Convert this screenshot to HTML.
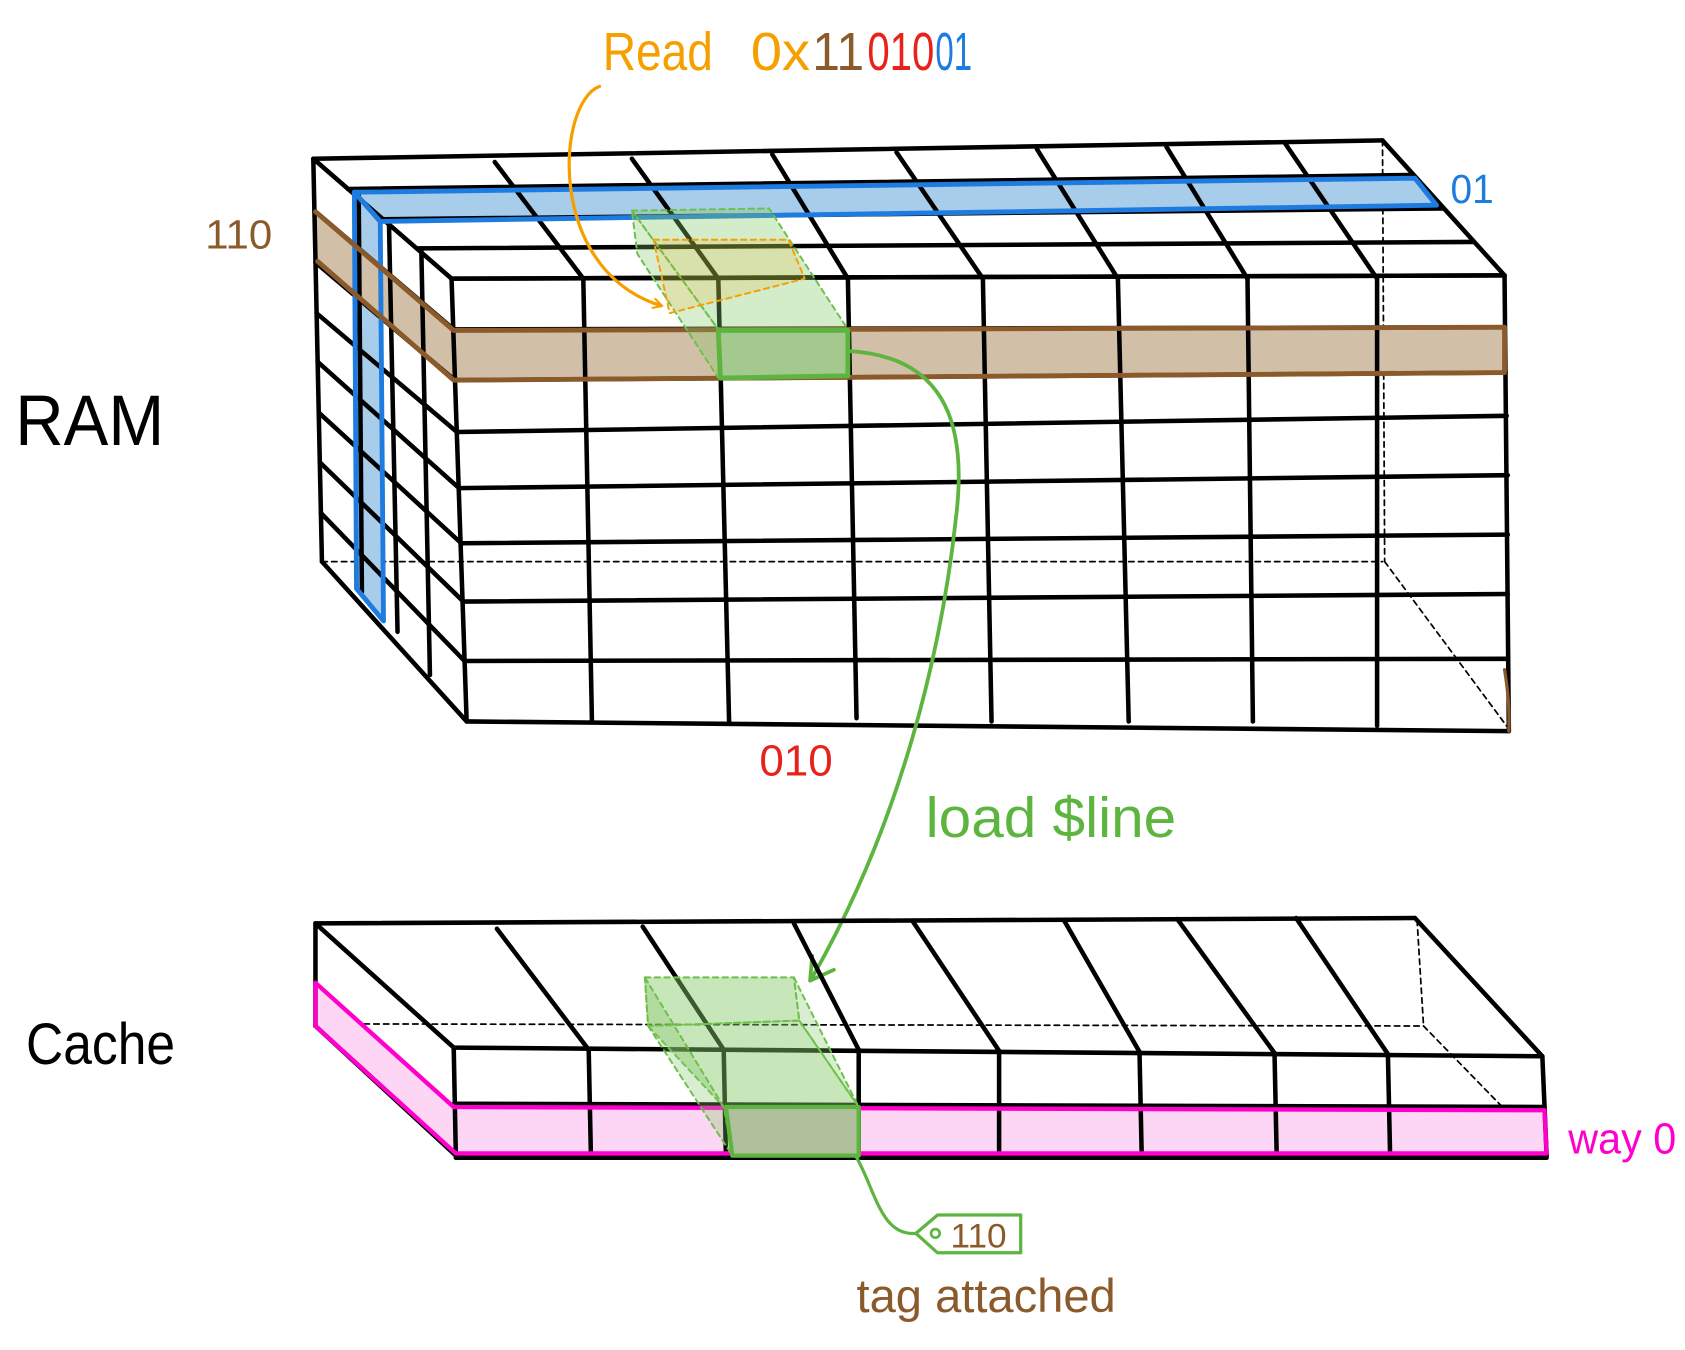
<!DOCTYPE html>
<html><head><meta charset="utf-8"><style>
html,body{margin:0;padding:0;background:#fff;}
svg{display:block;}
text{font-family:"Liberation Sans",sans-serif;}
</style></head><body>
<svg width="1685" height="1350" viewBox="0 0 1560 1250" xmlns="http://www.w3.org/2000/svg">
<defs>
<marker id="ao" markerWidth="10" markerHeight="10" refX="8" refY="5" orient="auto" markerUnits="userSpaceOnUse" viewBox="0 0 10 10"><path d="M0,0 L9,5 L0,10" fill="none" stroke="#f5a000" stroke-width="2"/></marker>
</defs>
<g fill="none" stroke-linecap="round" stroke-linejoin="round">

<!-- RAM hidden lines -->
<g stroke="#000" stroke-width="1.6" stroke-dasharray="5,4">
<line x1="298" y1="520" x2="1280" y2="520"/>
<line x1="1280" y1="130" x2="1282" y2="520"/>
<line x1="1282" y1="520" x2="1397" y2="675"/>
</g>

<!-- fills -->
<polygon points="328,178 1310,165 1330,190 352,205" fill="#a8cdea"/>
<polygon points="328,178 352,205 355,575 330,545" fill="#a8cdea"/>
<polygon points="292,196 420,306 420,352 294,242" fill="#d2bfa8"/>
<polygon points="420,306 1393,303 1393,345 420,352" fill="#d2bfa8"/>

<!-- RAM grid -->
<g stroke="#000" stroke-width="4.2">
<line x1="290" y1="147" x2="1280" y2="130"/>
<line x1="322" y1="175" x2="1308" y2="162"/>
<line x1="354" y1="203" x2="1336" y2="193"/>
<line x1="386" y1="230" x2="1364" y2="224"/>
<line x1="418" y1="258" x2="1393" y2="255"/>
<line x1="458" y1="150" x2="540" y2="258"/>
<line x1="585" y1="147" x2="665" y2="258"/>
<line x1="715" y1="143" x2="785" y2="258"/>
<line x1="830" y1="141" x2="910" y2="258"/>
<line x1="960" y1="138" x2="1035" y2="258"/>
<line x1="1080" y1="136" x2="1155" y2="258"/>
<line x1="1190" y1="133" x2="1275" y2="258"/>
<line x1="1280" y1="130" x2="1393" y2="255"/>
<line x1="290" y1="147" x2="418" y2="258"/>
<line x1="418" y1="258" x2="1393" y2="255"/>
<line x1="420" y1="305" x2="1393" y2="303"/>
<line x1="421" y1="352" x2="1394" y2="345"/>
<line x1="423" y1="400" x2="1395" y2="385"/>
<line x1="425" y1="452" x2="1396" y2="440"/>
<line x1="427" y1="503" x2="1396" y2="495"/>
<line x1="429" y1="557" x2="1396" y2="550"/>
<line x1="430" y1="612" x2="1396" y2="610"/>
<line x1="432" y1="668" x2="1397" y2="677"/>
<line x1="418" y1="258" x2="432" y2="668"/>
<line x1="540" y1="258" x2="548" y2="668"/>
<line x1="665" y1="258" x2="675" y2="668"/>
<line x1="785" y1="258" x2="793" y2="665"/>
<line x1="910" y1="258" x2="918" y2="668"/>
<line x1="1035" y1="258" x2="1045" y2="668"/>
<line x1="1155" y1="258" x2="1160" y2="668"/>
<line x1="1275" y1="258" x2="1275" y2="672"/>
<line x1="1393" y1="255" x2="1397" y2="677"/>
<line x1="290" y1="147" x2="298" y2="520"/>
<line x1="298" y1="520" x2="432" y2="668"/>
<line x1="291" y1="195" x2="420" y2="305"/>
<line x1="292" y1="243" x2="421" y2="352"/>
<line x1="293" y1="290" x2="423" y2="400"/>
<line x1="294" y1="335" x2="425" y2="452"/>
<line x1="295" y1="382" x2="427" y2="503"/>
<line x1="296" y1="428" x2="429" y2="557"/>
<line x1="297" y1="475" x2="430" y2="612"/>
<line x1="332" y1="178" x2="335" y2="548"/>
<line x1="360" y1="203" x2="368" y2="585"/>
<line x1="390" y1="230" x2="398" y2="625"/>
</g>
<!-- strip outlines on top -->
<polygon points="328,178 1310,165 1330,190 352,205" stroke="#1e7be0" stroke-width="4.5"/>
<polygon points="328,178 352,205 355,575 330,545" stroke="#1e7be0" stroke-width="4.5"/>
<polyline points="292,196 420,306 1393,303 1393,345 420,352 294,242" stroke="#8b5a2b" stroke-width="4.5"/>
<path d="M1393 620 Q1398 650 1397 677" stroke="#8b5a2b" stroke-width="3"/>

<!-- green prism on RAM -->
<polygon points="585,195 712,193 785,305 665,305" fill="rgba(130,200,100,0.35)" stroke="#6cc04a" stroke-width="1.8" stroke-dasharray="5,4"/>
<polygon points="585,195 665,305 665,350 590,235" fill="rgba(130,200,100,0.3)" stroke="#6cc04a" stroke-width="1.8" stroke-dasharray="5,4"/>
<polygon points="605,222 730,222 745,258 620,290" fill="rgba(245,160,0,0.15)" stroke="#f5a000" stroke-width="1.8" stroke-dasharray="5,4"/>
<polygon points="665,306 785,306 785,348 667,350" fill="#a3c98f" stroke="#5db540" stroke-width="4.5"/>

<path d="M555 80 C515 95 505 250 612 283" stroke="#f5a000" stroke-width="3" marker-end="url(#ao)"/>
<path d="M785 325 C880 330 895 400 885 480 C872 600 835 760 752 905" stroke="#5db540" stroke-width="3.5"/>
<path d="M752 885 L750 908 L772 898" stroke="#5db540" stroke-width="3.5"/>

<!-- Cache hidden -->
<g stroke="#000" stroke-width="1.6" stroke-dasharray="5,4">
<line x1="292" y1="948" x2="1318" y2="950"/>
<line x1="1312" y1="852" x2="1318" y2="950"/>
<line x1="1318" y1="950" x2="1430" y2="1065"/>
</g>
<polygon points="420,1025 1430,1025 1432,1070 422,1070" fill="#fcd6f4"/>
<polygon points="292,910 420,1025 422,1070 292,950" fill="#fcd6f4"/>
<g stroke="#000" stroke-width="4.2">
<line x1="292" y1="855" x2="1310" y2="850"/>
<line x1="420" y1="970" x2="1428" y2="978"/>
<line x1="292" y1="855" x2="420" y2="970"/>
<line x1="1310" y1="850" x2="1428" y2="978"/>
<line x1="292" y1="855" x2="292" y2="950"/>
<line x1="292" y1="950" x2="422" y2="1070"/>
<line x1="422" y1="1072" x2="1432" y2="1072"/>
<line x1="1428" y1="978" x2="1432" y2="1070"/>
<line x1="420" y1="970" x2="422" y2="1070"/>
<line x1="420" y1="1022" x2="1430" y2="1025"/>
<line x1="460" y1="860" x2="545" y2="972"/><line x1="545" y1="972" x2="547" y2="1068"/>
<line x1="595" y1="858" x2="670" y2="972"/><line x1="670" y1="972" x2="672" y2="1068"/>
<line x1="735" y1="855" x2="795" y2="972"/><line x1="795" y1="972" x2="795" y2="1068"/>
<line x1="845" y1="853" x2="925" y2="973"/><line x1="925" y1="973" x2="925" y2="1068"/>
<line x1="985" y1="852" x2="1055" y2="974"/><line x1="1055" y1="974" x2="1057" y2="1068"/>
<line x1="1090" y1="851" x2="1180" y2="975"/><line x1="1180" y1="975" x2="1182" y2="1068"/>
<line x1="1200" y1="850" x2="1285" y2="976"/><line x1="1285" y1="976" x2="1287" y2="1068"/>
</g>
<polyline points="292,910 420,1025 1430,1028 1432,1068 422,1068 292,950 292,910" stroke="#ff00cc" stroke-width="4"/>
<polygon points="597,905 735,905 740,945 600,950" fill="rgba(130,200,100,0.45)" stroke="#6cc04a" stroke-width="1.8" stroke-dasharray="5,4"/>
<polygon points="600,950 740,945 795,1025 670,1025" fill="rgba(130,200,100,0.45)" stroke="#6cc04a" stroke-width="1.8" stroke-dasharray="5,4"/>
<polygon points="597,905 600,950 678,1070 670,1025" fill="rgba(130,200,100,0.3)" stroke="#6cc04a" stroke-width="1.8" stroke-dasharray="5,4"/>
<polygon points="735,905 795,1025 740,945" fill="rgba(130,200,100,0.3)" stroke="#6cc04a" stroke-width="1.8" stroke-dasharray="5,4"/>
<polygon points="672,1025 795,1025 795,1070 678,1070" fill="#b0bf9c" stroke="#5db540" stroke-width="4"/>
<path d="M792 1070 C810 1100 815 1145 848 1142" stroke="#5db540" stroke-width="3"/>
<polygon points="848,1142 868,1125 945,1125 945,1160 868,1160" fill="#fff" stroke="#5db540" stroke-width="3"/>
<circle cx="866" cy="1142" r="4" stroke="#5db540" stroke-width="2.5"/>
</g>

<text x="558" y="65" font-size="50" fill="#f5a000" textLength="102" lengthAdjust="spacingAndGlyphs">Read</text>
<text x="695" y="65" font-size="50" fill="#f5a000" textLength="55" lengthAdjust="spacingAndGlyphs">0x</text>
<text x="752" y="65" font-size="50" fill="#8b5a2b" textLength="48" lengthAdjust="spacingAndGlyphs">11</text>
<text x="803" y="65" font-size="50" fill="#e8221a" textLength="62" lengthAdjust="spacingAndGlyphs">010</text>
<text x="866" y="65" font-size="50" fill="#1e7be0" textLength="34" lengthAdjust="spacingAndGlyphs">01</text>
<text x="190" y="230" font-size="38" fill="#8b5a2b" textLength="62" lengthAdjust="spacingAndGlyphs">110</text>
<text x="1343" y="188" font-size="38" fill="#1e7be0" textLength="40" lengthAdjust="spacingAndGlyphs">01</text>
<text x="14" y="412" font-size="66" fill="#000" textLength="138" lengthAdjust="spacingAndGlyphs">RAM</text>
<text x="703" y="718" font-size="40" fill="#e8221a" textLength="68" lengthAdjust="spacingAndGlyphs">010</text>
<text x="857" y="775" font-size="52" fill="#5db540" textLength="232" lengthAdjust="spacingAndGlyphs">load $line</text>
<text x="24" y="985" font-size="54" fill="#000" textLength="138" lengthAdjust="spacingAndGlyphs">Cache</text>
<text x="1452" y="1068" font-size="40" fill="#ff00cc" textLength="100" lengthAdjust="spacingAndGlyphs">way 0</text>
<text x="880" y="1155" font-size="32" fill="#8b5a2b" textLength="52" lengthAdjust="spacingAndGlyphs">110</text>
<text x="793" y="1215" font-size="44" fill="#8b5a2b" textLength="240" lengthAdjust="spacingAndGlyphs">tag attached</text>
</svg>
</body></html>
